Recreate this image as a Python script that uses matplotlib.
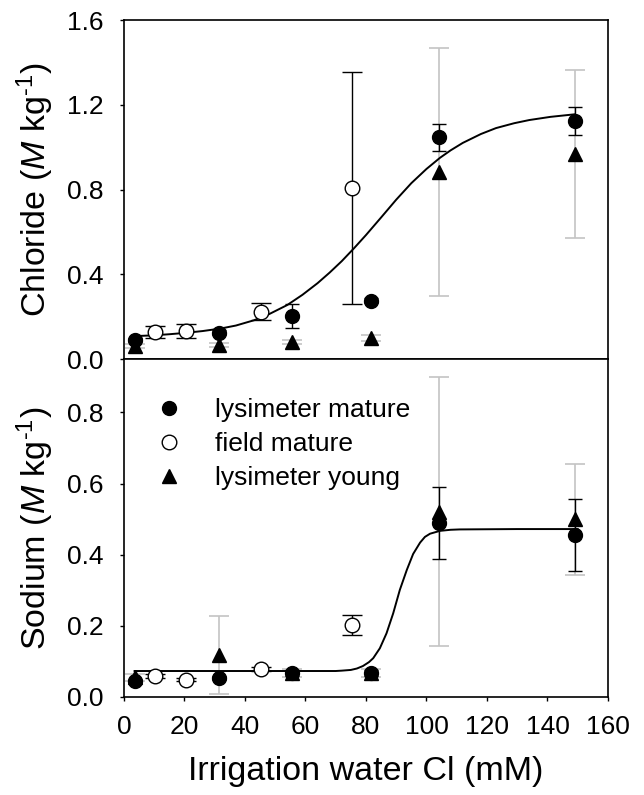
import matplotlib
matplotlib.use('Agg')
import matplotlib.pyplot as plt
from matplotlib.lines import Line2D

plt.rcParams['font.family'] = ['Liberation Sans', 'DejaVu Sans']
plt.rcParams['mathtext.fontset'] = 'custom'
plt.rcParams['mathtext.rm'] = 'Liberation Sans'
plt.rcParams['mathtext.it'] = 'Liberation Sans:italic'

# irrigation water Cl (mM)
lys_x = [3.6, 31.3, 55.7, 81.8, 104.3, 149.1]
field_x = [10.2, 20.4, 45.4, 75.3]

# chloride (M kg-1)
lm_cl = [0.088, 0.125, 0.205, 0.276, 1.046, 1.123]
lm_cl_err = [0.01, 0.01, 0.057, 0.01, 0.064, 0.065]
fm_cl = [0.127, 0.133, 0.224, 0.809]
fm_cl_err = [0.029, 0.034, 0.039, 0.547]
ly_cl = [0.060, 0.066, 0.080, 0.100, 0.883, 0.966]
ly_cl_err = [0.01, 0.01, 0.01, 0.013, 0.585, 0.397]

# sodium (M kg-1)
lm_na = [0.045, 0.053, 0.068, 0.068, 0.488, 0.455]
lm_na_err = [0.005, 0.005, 0.008, 0.008, 0.101, 0.101]
fm_na = [0.059, 0.049, 0.079, 0.203]
fm_na_err = [0.005, 0.005, 0.006, 0.028]
ly_na = [0.055, 0.117, 0.068, 0.068, 0.521, 0.499]
ly_na_err = [0.01, 0.11, 0.012, 0.012, 0.378, 0.155]

# fitted curves
cl_fit_x = [3.5, 10, 15, 20, 26, 32, 37, 43, 48, 54, 59, 64, 68, 72, 76, 80, 85,
            90, 95, 100, 104.5, 108, 112, 118, 123, 129, 134, 141, 149]
cl_fit_y = [0.108, 0.112, 0.117, 0.123, 0.132, 0.144, 0.158, 0.183, 0.212, 0.255,
            0.303, 0.358, 0.408, 0.462, 0.522, 0.585, 0.668, 0.752, 0.830, 0.897,
            0.950, 0.985, 1.020, 1.062, 1.090, 1.113, 1.128, 1.143, 1.155]
na_fit_x = [3.5, 30, 60, 70, 72, 75, 77, 79, 81, 82.4, 84.6, 86.8, 89, 91.2, 93.5,
            95.6, 97.9, 99.5, 101.2, 104.5, 108, 111, 130, 150]
na_fit_y = [0.073, 0.073, 0.073, 0.073, 0.074, 0.076, 0.080, 0.087, 0.098, 0.109,
            0.137, 0.179, 0.235, 0.301, 0.357, 0.402, 0.434, 0.450, 0.459, 0.467,
            0.470, 0.471, 0.472, 0.472]

grey = '#c4c4c4'
fig = plt.figure(figsize=(6.44, 7.95), dpi=100)
ax1 = fig.add_axes([0.1925, 0.5484, 0.7515, 0.4264])
ax2 = fig.add_axes([0.1925, 0.1233, 0.7515, 0.4251])


def panel(ax, lm, lm_e, fm, fm_e, ly, ly_e, fx, fy):
    ax.errorbar(lys_x, ly, yerr=ly_e, fmt='none', ecolor=grey, elinewidth=1.2,
                capsize=7, capthick=1.2, zorder=1)
    ax.plot(fx, fy, color='black', lw=1.4, zorder=2)
    ax.errorbar(lys_x, lm, yerr=lm_e, fmt='none', ecolor='black', elinewidth=1,
                capsize=5, capthick=1, zorder=3)
    ax.errorbar(field_x, fm, yerr=fm_e, fmt='none', ecolor='black', elinewidth=1,
                capsize=7, capthick=1, zorder=3)
    ax.plot(lys_x, ly, '^', color='black', ms=10, zorder=4)
    ax.plot(lys_x, lm, 'o', color='black', ms=10, zorder=5)
    ax.plot(field_x, fm, 'o', mfc='white', mec='black', mew=1, ms=10.5, zorder=5)
    ax.set_xlim(0, 160)
    ax.tick_params(direction='out', length=3, width=1, labelsize=19)
    ax.tick_params(axis='y', pad=12)
    ax.tick_params(axis='x', pad=10)
    ax.yaxis.set_label_coords(-0.14, 0.5)
    for s in ax.spines.values():
        s.set_linewidth(1.2)


panel(ax1, lm_cl, lm_cl_err, fm_cl, fm_cl_err, ly_cl, ly_cl_err, cl_fit_x, cl_fit_y)
panel(ax2, lm_na, lm_na_err, fm_na, fm_na_err, ly_na, ly_na_err, na_fit_x, na_fit_y)

ax1.set_ylim(0, 1.6)
ax1.set_yticks([0.0, 0.4, 0.8, 1.2, 1.6])
ax1.set_yticklabels(['0.0', '0.4', '0.8', '1.2', '1.6'])
ax1.tick_params(axis='x', bottom=False, labelbottom=False)

ax2.set_ylim(0, 0.95)
ax2.set_yticks([0.0, 0.2, 0.4, 0.6, 0.8])
ax2.set_yticklabels(['0.0', '0.2', '0.4', '0.6', '0.8'])
ax2.set_xticks(range(0, 161, 20))

ax1.set_ylabel('Chloride ($\\mathit{M}$ kg$^{\\mathregular{\u20101}}$)', fontsize=24.5)
ax2.set_ylabel('Sodium ($\\mathit{M}$ kg$^{\\mathregular{\u20101}}$)', fontsize=24.5)
ax2.set_xlabel('Irrigation water Cl (mM)', fontsize=24.5, labelpad=12)

handles = [Line2D([], [], ls='none', marker='o', color='black', ms=10),
           Line2D([], [], ls='none', marker='o', mfc='white', mec='black', ms=10.5),
           Line2D([], [], ls='none', marker='^', color='black', ms=10)]
ax2.legend(handles, ['lysimeter mature', 'field mature', 'lysimeter young'],
           loc='upper left', bbox_to_anchor=(-0.011, 0.955), frameon=False,
           fontsize=19, handletextpad=0.74, labelspacing=0.38)

fig.savefig('out.png', dpi=100)
